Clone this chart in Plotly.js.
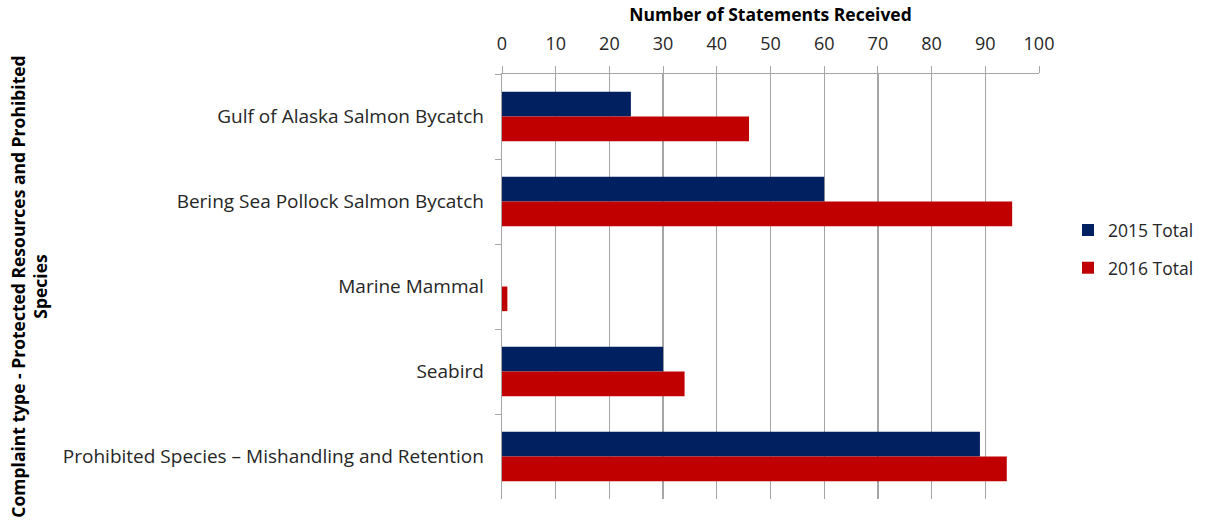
<!DOCTYPE html>
<html>
<head>
<meta charset="utf-8">
<script src="https://cdn.plot.ly/plotly-3.0.1.min.js"></script>
<style>html,body{margin:0;padding:0;background:#fff;}#chart{width:1213px;height:521px;}</style>
</head>
<body>
<div id="chart"></div>
<script>
const categories = [
  "Gulf of Alaska Salmon Bycatch",
  "Bering Sea Pollock Salmon Bycatch",
  "Marine Mammal",
  "Seabird",
  "Prohibited Species – Mishandling and Retention"
];
const series2015 = [24, 60, 0, 30, 89];
const series2016 = [46, 95, 1, 34, 94];
const seriesNames = ["2015 Total", "2016 Total"];
const xTickValues = [0, 10, 20, 30, 40, 50, 60, 70, 80, 90, 100];

const FONT = "'Open Sans', 'Liberation Sans', sans-serif";

const traces = [
  {type: "bar", orientation: "h", name: seriesNames[0], y: categories, x: series2015,
   marker: {color: "#002060"}, legendgroup: "a"},
  {type: "bar", orientation: "h", name: seriesNames[1], y: categories, x: series2016,
   marker: {color: "#C00000"}, legendgroup: "b"}
];

const layout = {
  width: 1213, height: 521,
  margin: {l: 502, r: 174, t: 74, b: 22, pad: 0},
  paper_bgcolor: "#fff", plot_bgcolor: "#fff",
  font: {family: FONT, size: 18, color: "#262626"},
  barmode: "group",
  bargap: 0.42,
  bargroupgap: 0,
  xaxis: {
    side: "top",
    range: [0, 100],
    tickvals: xTickValues,
    showgrid: true, gridcolor: "#a6a6a6", gridwidth: 1.3,
    zeroline: false,
    showline: true, linecolor: "#a6a6a6", linewidth: 1.3,
    ticks: "outside", ticklen: 7, tickcolor: "#a6a6a6",
    ticklabelstandoff: 9,
    tickfont: {size: 18, color: "#262626"},
    title: {text: "<b>Number of Statements Received</b>", font: {size: 17.5, color: "#000"}, standoff: 4},
    fixedrange: true
  },
  yaxis: {
    type: "category",
    autorange: "reversed",
    showgrid: false, zeroline: false,
    showline: true, linecolor: "#a6a6a6", linewidth: 1.3,
    ticks: "outside", ticklen: 6, tickcolor: "#a6a6a6",
    tickson: "boundaries",
    ticklabelstandoff: 13,
    tickfont: {size: 19, color: "#262626"},
    title: {text: "<b>Complaint type - Protected Resources and Prohibited<br>Species</b>", font: {size: 17.5, color: "#000"}, standoff: 10},
    fixedrange: true
  },
  legend: {
    x: 1.054, xanchor: "left",
    y: 0.588, yanchor: "middle",
    traceorder: "grouped",
    tracegroupgap: 12,
    font: {size: 17.5, color: "#262626"},
    bgcolor: "rgba(0,0,0,0)"
  },
  showlegend: true
};

Plotly.newPlot("chart", traces, layout, {displayModeBar: false, staticPlot: true});
</script>
</body>
</html>
